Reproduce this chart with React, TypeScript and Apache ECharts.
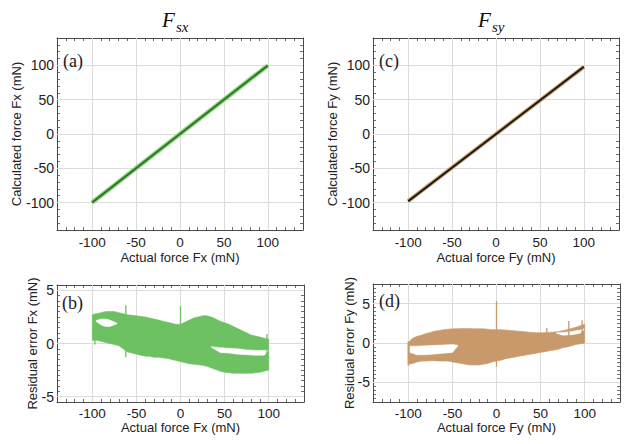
import React, { useEffect, useRef } from "react";
import * as echarts from "echarts";

// ---- Data ----
const lineActualFx = [-100, 100];
const lineCalcFx = [-100, 100];
const lineActualFy = [-100, 100];
const lineCalcFy = [-98, 98];

const resX = [-100, -95, -90, -85, -80, -75, -70, -65, -60, -55, -50, -45, -40, -35, -30, -25, -20, -15, -10, -5, 0, 5, 10, 15, 20, 25, 30, 35, 40, 45, 50, 55, 60, 65, 70, 75, 80, 85, 90, 95, 100];

// Residual Fx: outer envelope of the scatter band
const fxResHi = [2.7, 2.8, 2.9, 3.0, 3.0, 3.0, 2.9, 2.8, 2.7, 2.65, 2.6, 2.55, 2.5, 2.4, 2.3, 2.2, 2.1, 2.0, 1.9, 1.8, 1.8, 2.0, 2.2, 2.4, 2.5, 2.6, 2.6, 2.5, 2.3, 2.1, 1.95, 1.8, 1.6, 1.4, 1.2, 1.0, 0.8, 0.7, 0.6, 0.5, 0.4];
const fxResLo = [0.3, 0.3, 0.2, 0.1, 0.0, -0.1, -0.2, -0.5, -0.8, -0.9, -1.0, -1.1, -1.2, -1.2, -1.3, -1.3, -1.35, -1.4, -1.5, -1.6, -1.7, -1.8, -1.9, -1.95, -2.0, -2.05, -2.15, -2.3, -2.45, -2.6, -2.7, -2.75, -2.8, -2.8, -2.8, -2.8, -2.8, -2.75, -2.7, -2.6, -2.5];
// empty (white) pockets inside the band
const fxGapAX = [-96, -90, -85, -80, -72];
const fxGapAHi = [2.15, 2.3, 2.3, 2.2, 1.9];
const fxGapALo = [2.1, 1.75, 1.6, 1.6, 1.85];
const fxGapBX = [35, 45, 55, 65, 75, 85, 95, 99];
const fxGapBHi = [-0.3, -0.4, -0.45, -0.5, -0.6, -0.65, -0.65, -0.6];
const fxGapBLo = [-0.35, -0.85, -0.9, -1.0, -1.05, -1.1, -1.1, -0.7];
const fxSpikeX = [-97, -62, 0, 98];
const fxSpikeLo = [-0.1, -1.3, -0.5, -2.5];
const fxSpikeHi = [2.8, 3.6, 3.5, 0.9];

// Residual Fy
const fyResHi = [0.1, 0.6, 0.85, 1.0, 1.2, 1.35, 1.5, 1.6, 1.7, 1.75, 1.8, 1.8, 1.85, 1.85, 1.85, 1.8, 1.8, 1.8, 1.75, 1.7, 1.7, 1.7, 1.65, 1.6, 1.55, 1.5, 1.45, 1.4, 1.35, 1.3, 1.3, 1.3, 1.35, 1.4, 1.45, 1.55, 1.7, 1.85, 2.0, 2.2, 2.4];
const fyResLo = [-2.7, -2.6, -2.4, -2.3, -2.3, -2.25, -2.25, -2.3, -2.3, -2.3, -2.4, -2.5, -2.6, -2.7, -2.8, -2.8, -2.8, -2.7, -2.6, -2.4, -2.3, -2.2, -2.0, -1.9, -1.8, -1.7, -1.6, -1.5, -1.4, -1.3, -1.2, -1.1, -1.0, -0.9, -0.8, -0.6, -0.5, -0.35, -0.2, -0.1, 0.0];
const fyGapAX = [-98, -90, -80, -70, -60, -50, -44];
const fyGapAHi = [-0.4, -0.4, -0.35, -0.3, -0.25, -0.2, -0.3];
const fyGapALo = [-1.2, -1.5, -1.5, -1.4, -1.3, -1.2, -0.4];
const fyGapBX = [68, 75, 85, 95, 99];
const fyGapBHi = [1.3, 1.35, 1.45, 1.65, 1.8];
const fyGapBLo = [1.25, 1.0, 1.05, 1.25, 1.7];
const fySpikeX = [-100, 0, 57, 82, 97];
const fySpikeLo = [-2.9, -3.0, -0.5, -0.3, 0.0];
const fySpikeHi = [0.2, 5.3, 1.9, 2.8, 2.9];

const xTickLabels = [-100, -50, 0, 50, 100];
const yTickLabelsTop = [-100, -50, 0, 50, 100];
const yTickLabelsRes = [-5, 0, 5];

// ---- Styles ----
const SANS = "'Liberation Sans', Arial, sans-serif";
const SERIF = "'Liberation Serif', 'Times New Roman', serif";
const FRAME = "#4a4a4a";
const GRIDC = "#dcdcdc";
const GREEN_BAND = "#6dc163";
const GREEN_DARK = "#2f6f2a";
const GREEN_LIGHT = "#86d276";
const TAN = "#c8996b";
const TAN_LINE = "#c99a66";

function bandSeries(xs: number[], lo: number[], hi: number[], color: string, idx: number, z: number) {
  const data = xs.map((x, i) => [x, lo[i], hi[i]]);
  return {
    type: "custom",
    xAxisIndex: idx * 2,
    yAxisIndex: idx * 2,
    silent: true,
    z,
    data,
    encode: { x: 0, y: [1, 2] },
    renderItem: (params: any, api: any) => {
      if (params.dataIndex !== 0) return null;
      const top = data.map((d) => api.coord([d[0], d[2]]));
      const bottom = data.map((d) => api.coord([d[0], d[1]])).reverse();
      return {
        type: "polygon",
        shape: { points: top.concat(bottom) },
        style: { fill: color, stroke: color, lineWidth: 0.6 },
      };
    },
  };
}

function spikeSeries(xs: number[], lo: number[], hi: number[], color: string, idx: number) {
  const data = xs.map((x, i) => [x, lo[i], hi[i]]);
  return {
    type: "custom",
    xAxisIndex: idx * 2,
    yAxisIndex: idx * 2,
    silent: true,
    z: 4,
    data,
    encode: { x: 0, y: [1, 2] },
    renderItem: (params: any, api: any) => {
      const p1 = api.coord([api.value(0), api.value(1)]);
      const p2 = api.coord([api.value(0), api.value(2)]);
      return {
        type: "line",
        shape: { x1: p1[0], y1: p1[1], x2: p2[0], y2: p2[1] },
        style: { stroke: color, lineWidth: 1.3 },
      };
    },
  };
}

function gridLines(idx: number, yVals: number[]) {
  return {
    type: "line",
    xAxisIndex: idx * 2,
    yAxisIndex: idx * 2,
    data: [],
    silent: true,
    z: 1,
    markLine: {
      silent: true,
      z: 1,
      symbol: ["none", "none"],
      label: { show: false },
      lineStyle: { color: GRIDC, width: 1, type: "solid" },
      data: [
        ...xTickLabels.map((v) => ({ xAxis: v })),
        ...yVals.map((v) => ({ yAxis: v })),
      ],
    },
  };
}

const panels = [
  { left: 57, top: 38, width: 246, height: 192, yMin: -140, yMax: 140, yInt: 10, yLabels: yTickLabelsTop, xName: "Actual force Fx (mN)", yName: "Calculated force Fx (mN)", xNameGap: 21, yNameGap: 34, xMargin: 6 },
  { left: 57, top: 285, width: 247, height: 117, yMin: -5.5, yMax: 5.5, yInt: 0.5, yLabels: yTickLabelsRes, xName: "Actual force Fx (mN)", yName: "Residual error Fx (mN)", xNameGap: 19, yNameGap: 18.5, xMargin: 5 },
  { left: 373, top: 38, width: 246, height: 192, yMin: -140, yMax: 140, yInt: 10, yLabels: yTickLabelsTop, xName: "Actual force Fy (mN)", yName: "Calculated force Fy (mN)", xNameGap: 21, yNameGap: 34, xMargin: 6 },
  { left: 373, top: 284, width: 247, height: 118, yMin: -7.5, yMax: 7.5, yInt: 0.5, yLabels: yTickLabelsRes, xName: "Actual force Fy (mN)", yName: "Residual error Fy (mN)", xNameGap: 19, yNameGap: 17.5, xMargin: 5 },
];

function buildOption() {
  const grid = panels.map((p) => ({ left: p.left, top: p.top, width: p.width, height: p.height, show: false }));
  const xAxis: any[] = [];
  const yAxis: any[] = [];
  panels.forEach((p, gi) => {
    const baseX = {
      type: "value",
      gridIndex: gi,
      min: -140,
      max: 140,
      interval: 10,
      axisLine: { show: true, onZero: false, lineStyle: { color: FRAME, width: 1 } },
      axisTick: { show: true, inside: true, length: 3, lineStyle: { color: FRAME, width: 0.8 } },
      splitLine: { show: false },
    };
    xAxis.push({
      ...baseX,
      position: "bottom",
      name: p.xName,
      nameLocation: "middle",
      nameGap: p.xNameGap,
      nameMoveOverlap: false,
      nameTextStyle: { fontFamily: SANS, fontSize: 13, lineHeight: 12, color: "#222" },
      axisLabel: {
        margin: p.xMargin,
        fontFamily: SANS,
        fontSize: 13.5,
        lineHeight: 12,
        color: "#222",
        formatter: (v: number) => (xTickLabels.includes(v) ? String(v) : ""),
      },
    });
    xAxis.push({ ...baseX, position: "top", axisLabel: { show: false } });
    const baseY = {
      type: "value",
      gridIndex: gi,
      min: p.yMin,
      max: p.yMax,
      interval: p.yInt,
      axisLine: { show: true, onZero: false, lineStyle: { color: FRAME, width: 1 } },
      axisTick: { show: true, inside: true, length: 3, lineStyle: { color: FRAME, width: 0.8 } },
      splitLine: { show: false },
    };
    yAxis.push({
      ...baseY,
      position: "left",
      name: p.yName,
      nameLocation: "middle",
      nameGap: p.yNameGap,
      nameMoveOverlap: false,
      nameTextStyle: { fontFamily: SANS, fontSize: 13, color: "#222" },
      axisLabel: {
        margin: 3,
        fontFamily: SANS,
        fontSize: 14,
        color: "#222",
        formatter: (v: number) => (p.yLabels.some((l) => Math.abs(l - v) < 1e-9) ? String(v) : ""),
      },
    });
    yAxis.push({ ...baseY, position: "right", axisLabel: { show: false } });
  });

  const series: any[] = [
    gridLines(0, yTickLabelsTop),
    gridLines(1, yTickLabelsRes),
    gridLines(2, yTickLabelsTop),
    gridLines(3, yTickLabelsRes),
    {
      type: "line",
      xAxisIndex: 0,
      yAxisIndex: 0,
      data: lineActualFx.map((x, i) => [x, lineCalcFx[i]]),
      symbol: "none",
      z: 3,
      lineStyle: { color: GREEN_LIGHT, width: 4.5 },
      silent: true,
    },
    {
      type: "line",
      xAxisIndex: 0,
      yAxisIndex: 0,
      data: lineActualFx.map((x, i) => [x, lineCalcFx[i]]),
      symbol: "none",
      z: 4,
      lineStyle: { color: GREEN_DARK, width: 1.8 },
      silent: true,
    },
    {
      type: "line",
      xAxisIndex: 4,
      yAxisIndex: 4,
      data: lineActualFy.map((x, i) => [x, lineCalcFy[i]]),
      symbol: "none",
      z: 3,
      lineStyle: { color: TAN_LINE, width: 4 },
      silent: true,
    },
    {
      type: "line",
      xAxisIndex: 4,
      yAxisIndex: 4,
      data: lineActualFy.map((x, i) => [x, lineCalcFy[i]]),
      symbol: "none",
      z: 4,
      lineStyle: { color: "#151515", width: 1.8 },
      silent: true,
    },
    bandSeries(resX, fxResLo, fxResHi, GREEN_BAND, 1, 3),
    bandSeries(fxGapAX, fxGapALo, fxGapAHi, "#ffffff", 1, 4),
    bandSeries(fxGapBX, fxGapBLo, fxGapBHi, "#ffffff", 1, 4),
    spikeSeries(fxSpikeX, fxSpikeLo, fxSpikeHi, GREEN_BAND, 1),
    bandSeries(resX, fyResLo, fyResHi, TAN, 3, 3),
    bandSeries(fyGapAX, fyGapALo, fyGapAHi, "#ffffff", 3, 4),
    bandSeries(fyGapBX, fyGapBLo, fyGapBHi, "#ffffff", 3, 4),
    spikeSeries(fySpikeX, fySpikeLo, fySpikeHi, TAN, 3),
  ];

  const labelText = (txt: string, x: number, y: number) => ({
    type: "text",
    x,
    y,
    z: 10,
    style: { text: txt, font: `18px ${SERIF}`, fill: "#222", align: "left", verticalAlign: "middle" },
  });

  const graphic = [
    { type: "text", x: 162, y: 20, style: { text: "F", font: `italic 21px ${SERIF}`, fill: "#111", align: "left", verticalAlign: "middle" } },
    { type: "text", x: 176, y: 26.5, style: { text: "sx", font: `italic 15px ${SERIF}`, fill: "#111", align: "left", verticalAlign: "middle" } },
    { type: "text", x: 478, y: 20, style: { text: "F", font: `italic 21px ${SERIF}`, fill: "#111", align: "left", verticalAlign: "middle" } },
    { type: "text", x: 492, y: 26.5, style: { text: "sy", font: `italic 15px ${SERIF}`, fill: "#111", align: "left", verticalAlign: "middle" } },
    labelText("(a)", 63, 61),
    labelText("(b)", 62, 303),
    labelText("(c)", 379, 61),
    labelText("(d)", 379, 301),
  ];

  return {
    animation: false,
    backgroundColor: "#ffffff",
    grid,
    xAxis,
    yAxis,
    series,
    graphic,
  };
}

export default function App() {
  const ref = useRef<HTMLDivElement>(null);
  useEffect(() => {
    if (!ref.current) return;
    const chart = echarts.init(ref.current, null, { renderer: "svg" });
    chart.setOption(buildOption() as any);
    return () => chart.dispose();
  }, []);
  return <div ref={ref} style={{ width: 632, height: 444, position: "absolute", left: 0, top: 0 }} />;
}
